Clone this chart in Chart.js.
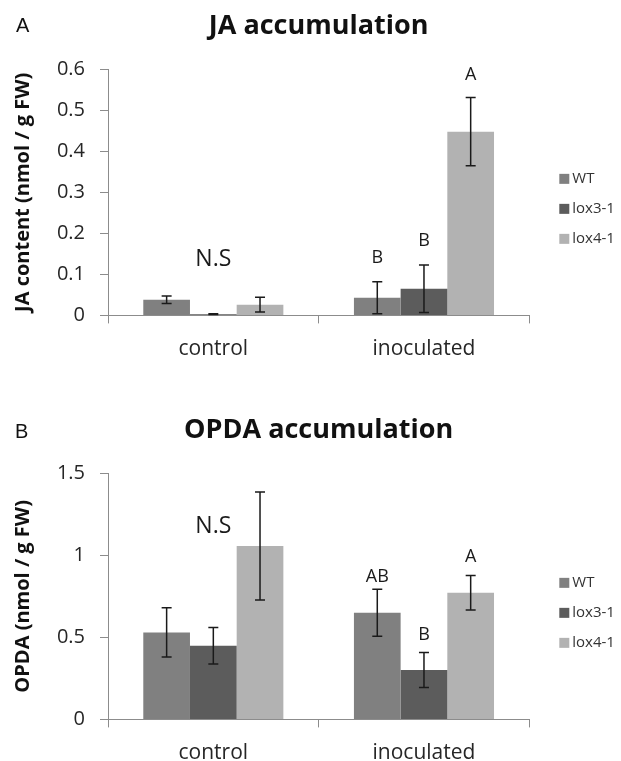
<!DOCTYPE html>
<html>
<head>
<meta charset="utf-8">
<script src="https://cdn.jsdelivr.net/npm/chart.js@4.4.0/dist/chart.umd.min.js"></script>
<style>
body{margin:0;background:#fff;overflow:hidden}
#page{position:relative;width:621px;height:761px;overflow:hidden}
canvas{position:absolute;left:0}
.panel{position:absolute;font:20px "Liberation Sans",Arial,sans-serif;line-height:20px;color:#111}
</style>
</head>
<body>
<div id="page">
<canvas id="jaChart" width="621" height="380" style="top:0"></canvas>
<canvas id="opdaChart" width="621" height="398" style="top:380px"></canvas>
<div class="panel" style="left:16px;top:15px">A</div>
<div class="panel" style="left:15px;top:421px">B</div>
</div>
<script>
const groups = ["control", "inoculated"];
const lines = ["WT", "lox3-1", "lox4-1"];
const colours = ["#808080", "#5c5c5c", "#b2b2b2"];

// JA content (nmol / g FW)
const jaWT = [0.038, 0.043];
const jaLox3 = [0.003, 0.065];
const jaLox4 = [0.026, 0.448];
const jaErrWT = [0.009, 0.039];
const jaErrLox3 = [0.001, 0.058];
const jaErrLox4 = [0.018, 0.083];
const jaTicks = [0, 0.1, 0.2, 0.3, 0.4, 0.5, 0.6];
// [series, group, text, height]
const jaLetters = [[1, 0, "N.S", 0.136], [0, 1, "B", 0.140], [1, 1, "B", 0.181], [2, 1, "A", 0.586]];

// OPDA (nmol / g FW)
const opdaWT = [0.530, 0.650];
const opdaLox3 = [0.449, 0.301];
const opdaLox4 = [1.057, 0.772];
const opdaErrWT = [0.150, 0.143];
const opdaErrLox3 = [0.111, 0.107];
const opdaErrLox4 = [0.329, 0.105];
const opdaTicks = [0, 0.5, 1, 1.5];
const opdaLetters = [[1, 0, "N.S", 1.174], [0, 1, "AB", 0.870], [1, 1, "B", 0.514], [2, 1, "A", 0.991]];

Chart.defaults.font.family = "'Open Sans', sans-serif";
const axisGrey = "#8c8c8c";

const errorBars = {
  id: "errorBars",
  afterDatasetsDraw(chart) {
    const ctx = chart.ctx, y = chart.scales.y;
    ctx.save();
    ctx.strokeStyle = "#1a1a1a";
    ctx.lineWidth = 1.5;
    chart.data.datasets.forEach((ds, i) => {
      chart.getDatasetMeta(i).data.forEach((bar, j) => {
        const top = y.getPixelForValue(ds.data[j] + ds.errors[j]);
        const bot = y.getPixelForValue(ds.data[j] - ds.errors[j]);
        ctx.beginPath();
        ctx.moveTo(bar.x, top); ctx.lineTo(bar.x, bot);
        ctx.moveTo(bar.x - 5, top); ctx.lineTo(bar.x + 5, top);
        ctx.moveTo(bar.x - 5, bot); ctx.lineTo(bar.x + 5, bot);
        ctx.stroke();
      });
    });
    ctx.restore();
  }
};

const letterMarks = {
  id: "letters",
  afterDatasetsDraw(chart, args, opts) {
    const ctx = chart.ctx, y = chart.scales.y;
    ctx.save();
    ctx.fillStyle = "#1a1a1a";
    ctx.textAlign = "center";
    ctx.textBaseline = "middle";
    opts.items.forEach(([s, g, text, h]) => {
      const bar = chart.getDatasetMeta(s).data[g];
      ctx.font = (text === "N.S" ? 23 : 18) + "px 'Open Sans'";
      ctx.fillText(text, bar.x, y.getPixelForValue(h));
    });
    ctx.restore();
  }
};

const sideLegend = {
  id: "sideLegend",
  afterDraw(chart) {
    const ctx = chart.ctx, area = chart.chartArea;
    const mid = (area.top + area.bottom) / 2 + 16.5;
    ctx.save();
    ctx.font = "15px 'Open Sans'";
    ctx.textBaseline = "middle";
    chart.data.datasets.forEach((ds, i) => {
      const yc = mid + (i - 1) * 30;
      ctx.fillStyle = ds.backgroundColor;
      ctx.fillRect(area.right + 30, yc - 5, 10, 10);
      ctx.fillStyle = "#333";
      ctx.fillText(ds.label, area.right + 43, yc);
    });
    ctx.restore();
  }
};

function drawChart(id, series, errors, ticks, letters, title, yTitle, pad) {
  return new Chart(document.getElementById(id), {
    type: "bar",
    data: {
      labels: groups,
      datasets: lines.map((name, i) => ({
        label: name,
        data: series[i],
        errors: errors[i],
        backgroundColor: colours[i],
        borderWidth: 0,
        categoryPercentage: 0.665,
        barPercentage: 1
      }))
    },
    options: {
      responsive: false,
      animation: false,
      events: [],
      layout: {padding: {left: 0, right: 91.7, top: 0, bottom: pad.bottom}},
      plugins: {
        legend: {display: false},
        tooltip: {enabled: false},
        title: {
          display: true, text: title, fullSize: false, color: "#111",
          font: {size: 27, weight: "bold"},
          padding: {top: pad.titleTop, bottom: pad.titleBottom}
        },
        letters: {items: letters}
      },
      scales: {
        x: {
          grid: {drawOnChartArea: false, tickLength: 8, color: axisGrey},
          border: {color: axisGrey},
          ticks: {padding: 12.7, font: {size: 21}, color: "#262626"}
        },
        y: {
          min: ticks[0],
          max: ticks[ticks.length - 1],
          afterFit(scale) { scale.width = 108; },
          afterBuildTicks(scale) { scale.ticks = ticks.map(v => ({value: v})); },
          grid: {drawOnChartArea: false, tickLength: 8, color: axisGrey},
          border: {color: axisGrey},
          ticks: {padding: 15, font: {size: 20}, color: "#262626", callback: v => String(v)},
          title: {
            display: true, text: yTitle, color: "#111",
            font: {size: 20, weight: "bold"},
            padding: {top: 11, bottom: 0}
          }
        }
      }
    },
    plugins: [errorBars, letterMarks, sideLegend]
  });
}

drawChart("jaChart",
  [jaWT, jaLox3, jaLox4], [jaErrWT, jaErrLox3, jaErrLox4],
  jaTicks, jaLetters, "JA accumulation", "JA content (nmol / g FW)",
  {bottom: 6, titleTop: 9.8, titleBottom: 27.1});

drawChart("opdaChart",
  [opdaWT, opdaLox3, opdaLox4], [opdaErrWT, opdaErrLox3, opdaErrLox4],
  opdaTicks, opdaLetters, "OPDA accumulation", "OPDA (nmol / g FW)",
  {bottom: 0, titleTop: 33.8, titleBottom: 27.1});
</script>
</body>
</html>
